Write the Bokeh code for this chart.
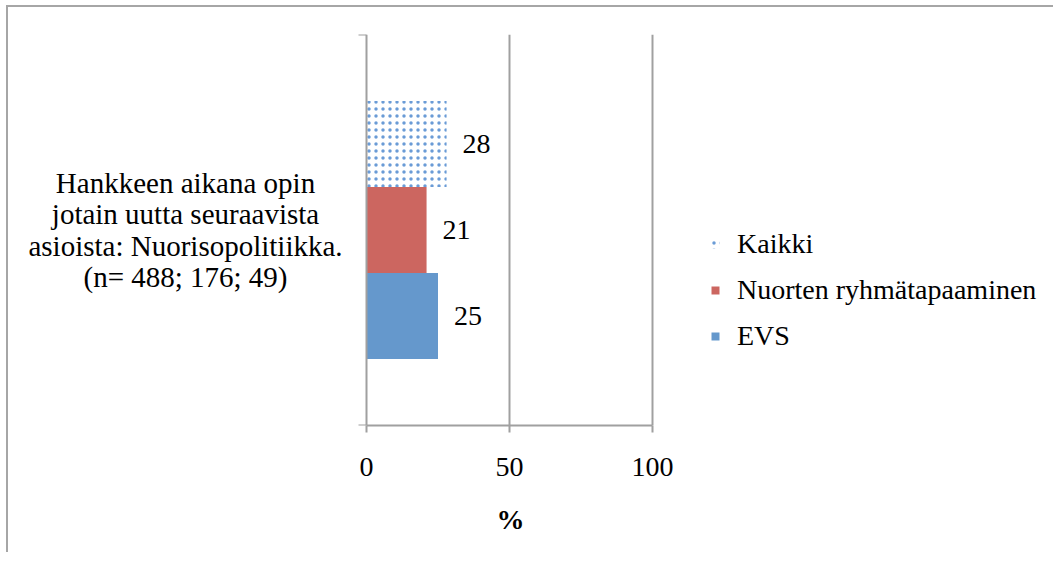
from bokeh.plotting import figure
from bokeh.models import (ColumnDataSource, Range1d, FixedTicker, Legend, LegendItem,
                          Label, InlineStyleSheet)
from bokeh.core.properties import value
from bokeh.embed import file_html
from bokeh.resources import INLINE

# ---- data ----
category = "Hankkeen aikana opin\njotain uutta seuraavista\nasioista: Nuorisopolitiikka.\n(n= 488; 176; 49)"
series = ["Kaikki", "Nuorten ryhmätapaaminen", "EVS"]
values = [28, 21, 25]
colors = ["#FFFFFF", "#CC6660", "#6598CC"]
x_ticks = [0, 50, 100]
x_title = "%"

FONT = "Liberation Serif"
FS = "28px"
GRAY = "#A0A0A0"

# layout (pixels): canvas size, frame left, position of value 0, px per unit
W, H = 1047, 547
FRAME_L = 20
ZERO_PX = 358
PX_PER_UNIT = 2.86

n = len(series)
bar_h = 0.22
centers = [0.5 + (((n - 1) / 2) - i) * bar_h for i in range(n)]

x_start = -(ZERO_PX - FRAME_L) / PX_PER_UNIT
x_end = (W - ZERO_PX) / PX_PER_UNIT

p = figure(width=W, height=H, output_backend="svg", toolbar_location=None,
           x_range=Range1d(x_start, x_end), y_range=Range1d(0, 1),
           min_border_left=FRAME_L, min_border_right=0,
           min_border_top=27, min_border_bottom=129)
p.stylesheets = [InlineStyleSheet(css=":host { margin-left: 6px; margin-top: 5px; border-top: 2px solid #A6A6A6; border-left: 2px solid #A6A6A6; }")]
p.outline_line_color = None
p.background_fill_color = "white"
p.border_fill_color = "white"

renderers = []
for i in range(n):
    sub = ColumnDataSource(dict(y=[centers[i]], right=[values[i]], label=[str(values[i])]))
    if series[i] == "Kaikki":
        r = p.hbar(y="y", right="right", left=0, height=bar_h, source=sub,
                   fill_color="white", line_color=None,
                   hatch_pattern="dot", hatch_color="#6A9BD6", hatch_scale=7, hatch_weight=1.5)
    else:
        r = p.hbar(y="y", right="right", left=0, height=bar_h, source=sub,
                   fill_color=colors[i], line_color=None)
    renderers.append(r)
    p.text(x="right", y="y", text="label", source=sub, x_offset=16,
           text_align="left", text_baseline="middle",
           text_font=value(FONT), text_font_size=FS, text_color="black")

# category label, centred lines, left of the value axis
p.add_layout(Label(x=0, y=0.5, x_offset=-181, text=category, text_align="center",
                   text_baseline="middle", text_font=FONT, text_font_size="29px",
                   text_color="black", text_line_height=0.97))

# x axis (drawn only over 0..100); title padded so it sits under 0..100
p.xaxis.bounds = (0, 100)
p.xaxis.ticker = FixedTicker(ticks=x_ticks)
p.xaxis.axis_label = x_title + "\u00a0" * 9
p.xaxis.axis_label_text_font = FONT
p.xaxis.axis_label_text_font_style = "bold"
p.xaxis.axis_label_text_font_size = FS
p.xaxis.axis_label_text_color = "black"
p.xaxis.axis_label_standoff = 25
p.xaxis.major_label_text_font = FONT
p.xaxis.major_label_text_font_size = FS
p.xaxis.major_label_text_color = "black"
p.xaxis.major_label_standoff = 25
p.xaxis.axis_line_color = GRAY
p.xaxis.axis_line_width = 2
p.xaxis.major_tick_line_color = GRAY
p.xaxis.major_tick_line_width = 2
p.xaxis.major_tick_out = 7
p.xaxis.major_tick_in = 0
p.xaxis.minor_tick_line_color = None

# y axis at value 0: ticks at band edges only
p.yaxis.fixed_location = 0
p.yaxis.ticker = FixedTicker(ticks=[0.5], minor_ticks=[0, 1])
p.yaxis.major_label_overrides = {0.5: ""}
p.yaxis.major_label_text_font_size = "0px"
p.yaxis.major_tick_line_color = None
p.yaxis.minor_tick_line_color = GRAY
p.yaxis.minor_tick_line_width = 2
p.yaxis.minor_tick_out = 8
p.yaxis.minor_tick_in = 0
p.yaxis.axis_line_color = GRAY
p.yaxis.axis_line_width = 2

p.xgrid.ticker = FixedTicker(ticks=[50, 100])
p.xgrid.grid_line_color = GRAY
p.xgrid.grid_line_width = 2
p.ygrid.grid_line_color = None

legend = Legend(items=[LegendItem(label=series[i], renderers=[renderers[i]]) for i in range(n)],
                location=(ZERO_PX - FRAME_L + 344, 73), orientation="vertical",
                label_text_font=FONT, label_text_font_size=FS, label_text_color="black",
                glyph_width=10, glyph_height=10, label_standoff=17,
                spacing=14, padding=0, margin=0,
                border_line_color=None, background_fill_alpha=0)
p.add_layout(legend, "center")

open("out.html", "w").write(file_html(p, INLINE))
